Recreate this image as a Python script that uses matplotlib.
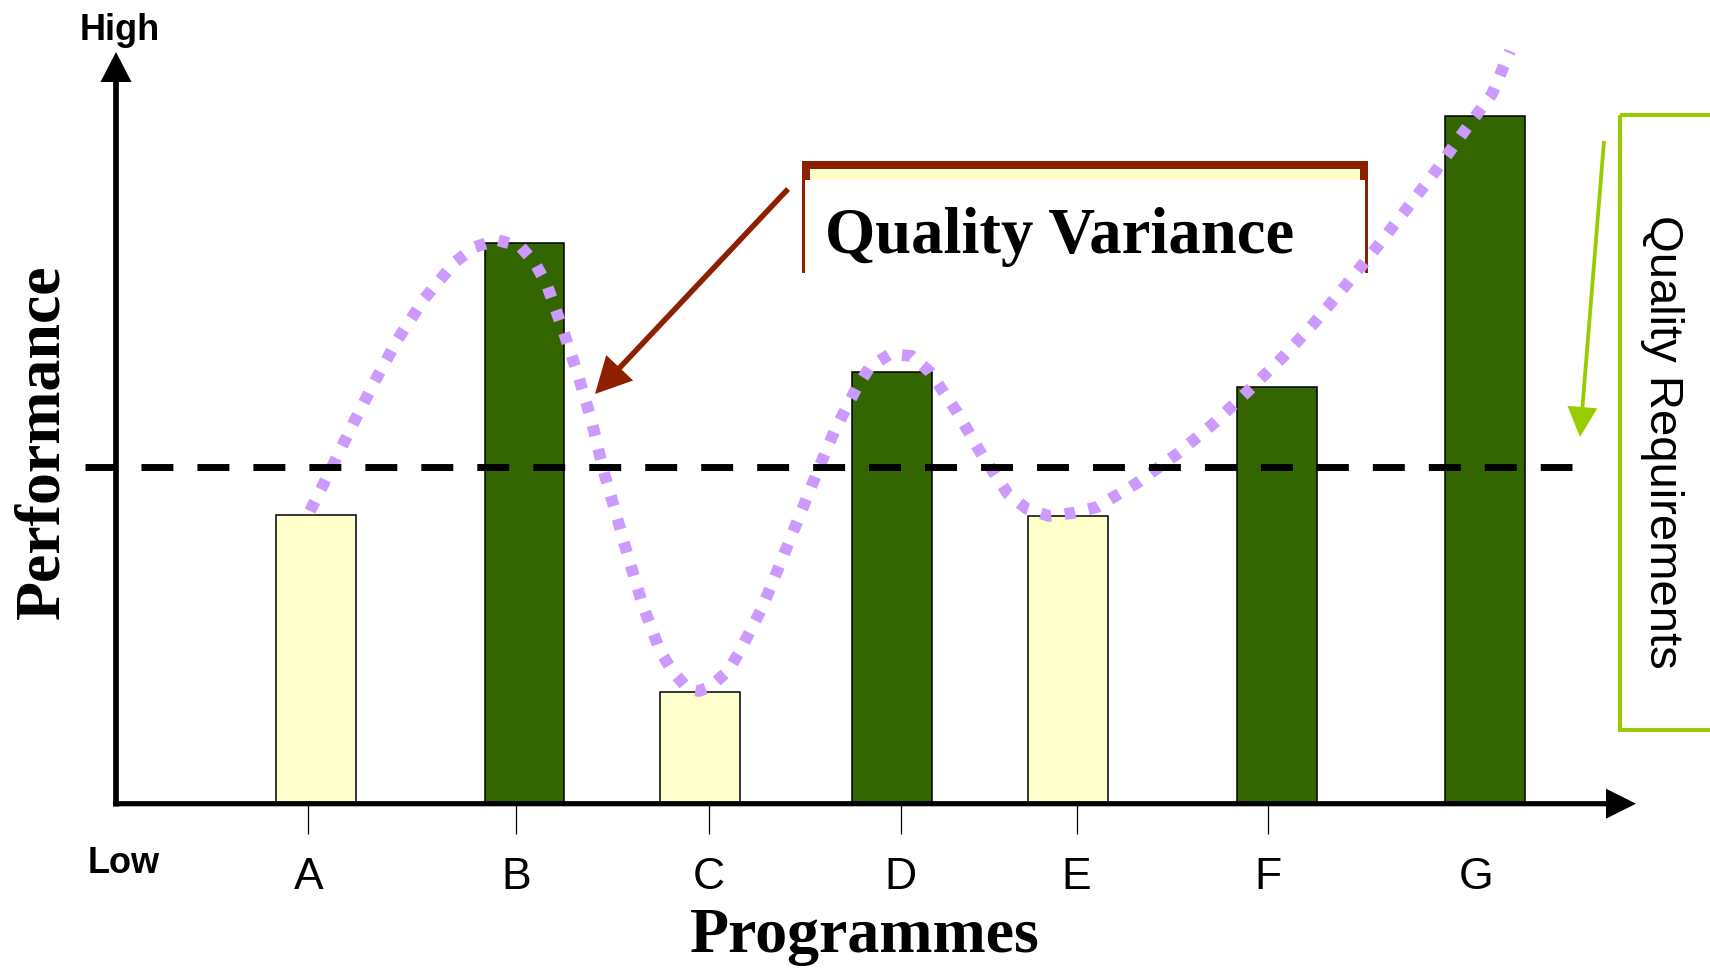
import matplotlib
matplotlib.use('Agg')
import matplotlib.pyplot as plt
from matplotlib.patches import Rectangle, FancyArrow

# ---------------- data ----------------
categories = ['A', 'B', 'C', 'D', 'E', 'F', 'G']
bar_pos = [1.054, 2.150, 3.075, 4.086, 5.012, 6.109, 7.204]
bar_vals = [38.4, 74.6, 14.9, 57.5, 38.3, 55.4, 91.5]
meets_req = [False, True, False, True, False, True, True]
tick_pos = [1.012, 2.105, 3.119, 4.130, 5.056, 6.065, 7.159]
requirement = 44.8
req_span = [-0.163, 7.663]

curve_x = [1.021, 1.137, 1.247, 1.363, 1.484, 1.621, 1.784, 1.889, 2.005, 2.126,
           2.205, 2.268, 2.353, 2.432, 2.505, 2.563, 2.632, 2.700, 2.774, 2.863,
           2.932, 3.011, 3.068, 3.126, 3.221, 3.284, 3.400, 3.495, 3.589, 3.684,
           3.784, 3.900, 3.968, 4.074, 4.189, 4.284, 4.426, 4.558, 4.695, 4.795,
           4.911, 5.037, 5.163, 5.374, 5.584, 5.774, 5.958, 6.142, 6.311, 6.474,
           6.632, 6.784, 6.942, 7.089, 7.242, 7.337]
curve_y = [38.96, 44.81, 50.53, 56.25, 61.84, 67.15, 72.07, 74.07, 75.00, 74.20,
           71.94, 69.02, 63.03, 57.05, 50.80, 44.55, 38.56, 32.45, 26.33, 20.35,
           17.55, 15.29, 15.03, 15.56, 17.69, 20.35, 26.06, 31.91, 37.77, 43.75,
           49.73, 55.45, 58.11, 59.84, 59.57, 57.45, 52.13, 46.41, 41.22, 39.23,
           38.30, 38.70, 39.49, 42.69, 46.54, 50.53, 54.92, 59.44, 64.10, 69.02,
           73.94, 78.86, 84.04, 89.23, 94.41, 100.13]

W, H = 1710, 970
GREEN = '#336600'
YELLOW = '#ffffcc'
PURPLE = '#cc99ff'
BROWN = '#8c2000'
LIME = '#99cc00'
SERIF = 'Liberation Serif'
SANS = 'Liberation Sans'

fig = plt.figure(figsize=(W / 100, H / 100), dpi=100)
fig.patch.set_facecolor('white')

# background overlay (pixel coords) for the callout box
back = fig.add_axes([0, 0, 1, 1], zorder=0)
back.set_xlim(0, W); back.set_ylim(H, 0); back.axis('off')

# main data axes
ax = fig.add_axes([116 / W, (H - 805) / H, (1636 - 116) / W, (805 - 53) / H], zorder=1)
ax.patch.set_alpha(0)
ax.set_xlim(0, 8)
ax.set_ylim(0, 100)
for s in ax.spines.values():
    s.set_visible(False)

colors = [GREEN if m else YELLOW for m in meets_req]
ax.bar(bar_pos, bar_vals, width=0.421, color=colors, edgecolor='black',
       linewidth=1.1, zorder=2)

ax.plot(curve_x, curve_y, color=PURPLE, lw=8.5, linestyle=(0, (0.9, 1.15)),
        dash_capstyle='butt', clip_on=False, zorder=3)

ax.plot(req_span, [requirement, requirement], color='black', lw=5,
        linestyle=(0, (4.6, 3.46)), dash_capstyle='butt', clip_on=False, zorder=4)

ax.set_xticks(tick_pos)
ax.set_xticklabels(categories, fontsize=32, family=SANS)
ax.tick_params(axis='x', length=21.6, width=0.9, pad=15.5, direction='out')
ax.xaxis.get_major_ticks()[6].tick1line.set_visible(False)
ax.set_yticks([])

# front overlay (pixel coords)
fr = fig.add_axes([0, 0, 1, 1], zorder=2)
fr.patch.set_alpha(0)
fr.set_xlim(0, W); fr.set_ylim(H, 0); fr.axis('off')

# callout box (behind the curve)
back.add_patch(Rectangle((806, 166), 1364 - 806, 270 - 166, facecolor=YELLOW,
                         edgecolor=BROWN, lw=5.76))
back.add_patch(Rectangle((805, 181), 560, 110, facecolor='white', edgecolor='none'))

# axes arrows
fr.add_patch(FancyArrow(116, 807.5, 0, 53 - 807.5, width=5.7, head_width=31,
                        head_length=30, length_includes_head=True,
                        color='black', lw=0))
fr.add_patch(FancyArrow(113, 804.7, 1636 - 113, 0, width=5.2, head_width=30,
                        head_length=30, length_includes_head=True,
                        color='black', lw=0))

# brown arrow
fr.add_patch(FancyArrow(788, 190, 595 - 788, 395 - 190, width=5.5, head_width=37,
                        head_length=36, length_includes_head=True,
                        color=BROWN, lw=0))
# green arrow
fr.add_patch(FancyArrow(1604, 142, 1580 - 1604, 438 - 142, width=3.8, head_width=30,
                        head_length=30, length_includes_head=True,
                        color=LIME, lw=0))
# green box
fr.add_patch(Rectangle((1620, 115.6), 200, 615, fill=False, edgecolor=LIME,
                       lw=2.9, clip_on=False))

# texts
fr.text(825, 253, 'Quality Variance', family=SERIF, weight='bold', fontsize=46.5,
        ha='left', va='baseline')
fr.text(865, 952, 'Programmes', family=SERIF, weight='bold', fontsize=46,
        ha='center', va='baseline')
fr.text(58, 442, 'Performance', family=SERIF, weight='bold', fontsize=46,
        ha='center', va='baseline', rotation=90, rotation_mode='anchor')
fr.text(120, 40, 'High', family=SANS, weight='bold', fontsize=26,
        ha='center', va='baseline')
fr.text(124, 873, 'Low', family=SANS, weight='bold', fontsize=26,
        ha='center', va='baseline')
fr.text(1650, 442, 'Quality Requirements', family=SANS, fontsize=34,
        ha='center', va='baseline', rotation=-90, rotation_mode='anchor')

fig.savefig('out.png', dpi=100, facecolor='white')
